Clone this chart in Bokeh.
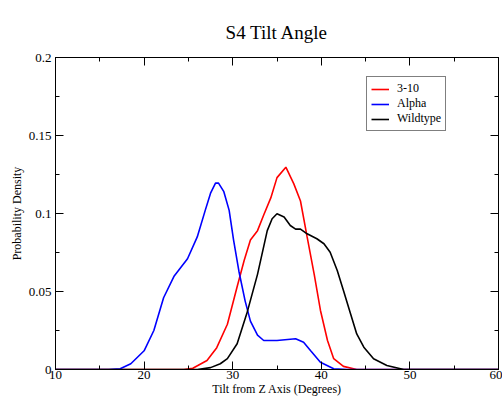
from bokeh.plotting import figure
from bokeh.models import (LinearAxis, FixedTicker, CustomJSTickFormatter, Legend, LegendItem, Range1d,
                          CustomLabelingPolicy)
from bokeh.embed import file_html
from bokeh.resources import INLINE

TITLE = "S4 Tilt Angle"
X_LABEL = "Tilt from Z Axis (Degrees)"
Y_LABEL = "Probability Density"

# Alpha
alpha_x = [10, 16, 17.3, 18.5, 20, 21.1, 22.2, 23.4, 24.9, 26.0, 26.9, 27.5, 28.06, 28.4, 29.0, 29.6,
           30.1, 30.7, 31.4, 32.0, 32.8, 33.5, 35.0, 37.1, 38.0, 38.8, 39.9, 41.4, 43, 60]
alpha_y = [0, 0, 0.0005, 0.0037, 0.012, 0.025, 0.046, 0.060, 0.071, 0.085, 0.102, 0.113, 0.1195, 0.1195,
           0.114, 0.102, 0.083, 0.063, 0.044, 0.031, 0.022, 0.0186, 0.0186, 0.0197, 0.0175, 0.012,
           0.0047, 0.0005, 0, 0]
# 3-10
h310_x = [10, 24.5, 25.5, 27.1, 28.2, 29.4, 30.5, 31.3, 32.0, 32.8, 33.5, 34.3, 35.0, 36.0, 36.9, 37.65,
          38.4, 39.2, 39.9, 40.7, 41.4, 42.5, 44.0, 60]
h310_y = [0, 0, 0.0008, 0.0058, 0.014, 0.029, 0.053, 0.070, 0.083, 0.089, 0.099, 0.110, 0.123, 0.1297,
          0.119, 0.108, 0.085, 0.061, 0.038, 0.0186, 0.0069, 0.002, 0, 0]
# Wildtype
wt_x = [10, 26.0, 27.5, 28.6, 29.4, 30.5, 31.6, 32.8, 33.9, 34.45, 35.0, 35.8, 36.5, 37.1, 37.65, 38.4,
        39.5, 40.3, 41.0, 41.8, 42.5, 43.3, 44.0, 44.8, 45.9, 47.4, 49.3, 60]
wt_y = [0, 0, 0.0012, 0.0037, 0.007, 0.0165, 0.036, 0.061, 0.089, 0.0966, 0.0998, 0.0977, 0.0923, 0.090,
        0.090, 0.087, 0.0838, 0.0806, 0.0752, 0.0635, 0.0506, 0.0357, 0.0228, 0.0143, 0.0069, 0.0026,
        0, 0]

x_ticks = [10, 20, 30, 40, 50, 60]
x_minor = [15, 25, 35, 45, 55]
y_ticks = [0, 0.05, 0.1, 0.15, 0.2]
y_minor = [0.025, 0.075, 0.125, 0.175]

FONT = "Liberation Serif"

p = figure(width=502, height=398, output_backend="svg", toolbar_location=None,
           x_range=Range1d(10, 60), y_range=Range1d(0, 0.2),
           x_axis_location=None, y_axis_location=None,
           min_border_left=55, min_border_right=4, min_border_top=57, min_border_bottom=29)
p.grid.visible = False
p.outline_line_color = "black"
p.outline_line_width = 1
p.background_fill_color = "white"
p.border_fill_color = "white"

p.title.text = TITLE
p.title.align = "center"
p.title.text_font = FONT
p.title.text_font_size = "19px"
p.title.text_font_style = "normal"
p.title.text_color = "black"
p.title.offset = 0
p.title.standoff = 30

fmt = CustomJSTickFormatter(code="return String(Math.round(tick*1000)/1000);")

def mk_axis(ticks, minor, labels=True, label=None, lstand=4, astand=2):
    ax = LinearAxis(ticker=FixedTicker(ticks=ticks, minor_ticks=minor))
    ax.formatter = fmt
    ax.major_tick_in = 8
    ax.major_tick_out = 0
    ax.minor_tick_in = 4
    ax.minor_tick_out = 0
    ax.axis_line_color = "black"
    ax.major_tick_line_color = "black"
    ax.minor_tick_line_color = "black"
    ax.major_label_text_font = FONT
    ax.major_label_text_color = "black"
    ax.major_label_text_font_size = "13px"
    ax.major_label_standoff = lstand
    if not labels:
        ax.major_label_text_font_size = "0px"
        ax.major_label_standoff = 0
        ax.major_label_policy = CustomLabelingPolicy(
            code="const a = [...indices]; for (const i of a) indices.unset(i); return indices;")
    if label:
        ax.axis_label = label
        ax.axis_label_text_font = FONT
        ax.axis_label_text_color = "black"
        ax.axis_label_text_font_size = "12px"
        ax.axis_label_text_font_style = "normal"
        ax.axis_label_standoff = astand
    return ax

p.add_layout(mk_axis(x_ticks, x_minor, True, X_LABEL, lstand=1, astand=0), "below")
p.add_layout(mk_axis(y_ticks, y_minor, True, Y_LABEL), "left")
p.add_layout(mk_axis(x_ticks, x_minor, False), "above")
p.add_layout(mk_axis(y_ticks, y_minor, False), "right")

r1 = p.line(h310_x, h310_y, line_color="red", line_width=1.6)
r2 = p.line(alpha_x, alpha_y, line_color="blue", line_width=1.6)
r3 = p.line(wt_x, wt_y, line_color="black", line_width=1.6)

legend = Legend(items=[LegendItem(label="3-10", renderers=[r1]),
                       LegendItem(label="Alpha", renderers=[r2]),
                       LegendItem(label="Wildtype", renderers=[r3])],
                location=(311, 238))
legend.label_text_font = FONT
legend.label_text_font_size = "12px"
legend.label_text_color = "black"
legend.border_line_color = "black"
legend.border_line_width = 1
legend.glyph_width = 18
legend.glyph_height = 10
legend.label_height = 10
legend.spacing = 0
legend.padding = 4
legend.margin = 0
legend.label_standoff = 8
legend.background_fill_alpha = 1
p.add_layout(legend)

open("out.html", "w").write(file_html(p, INLINE))
